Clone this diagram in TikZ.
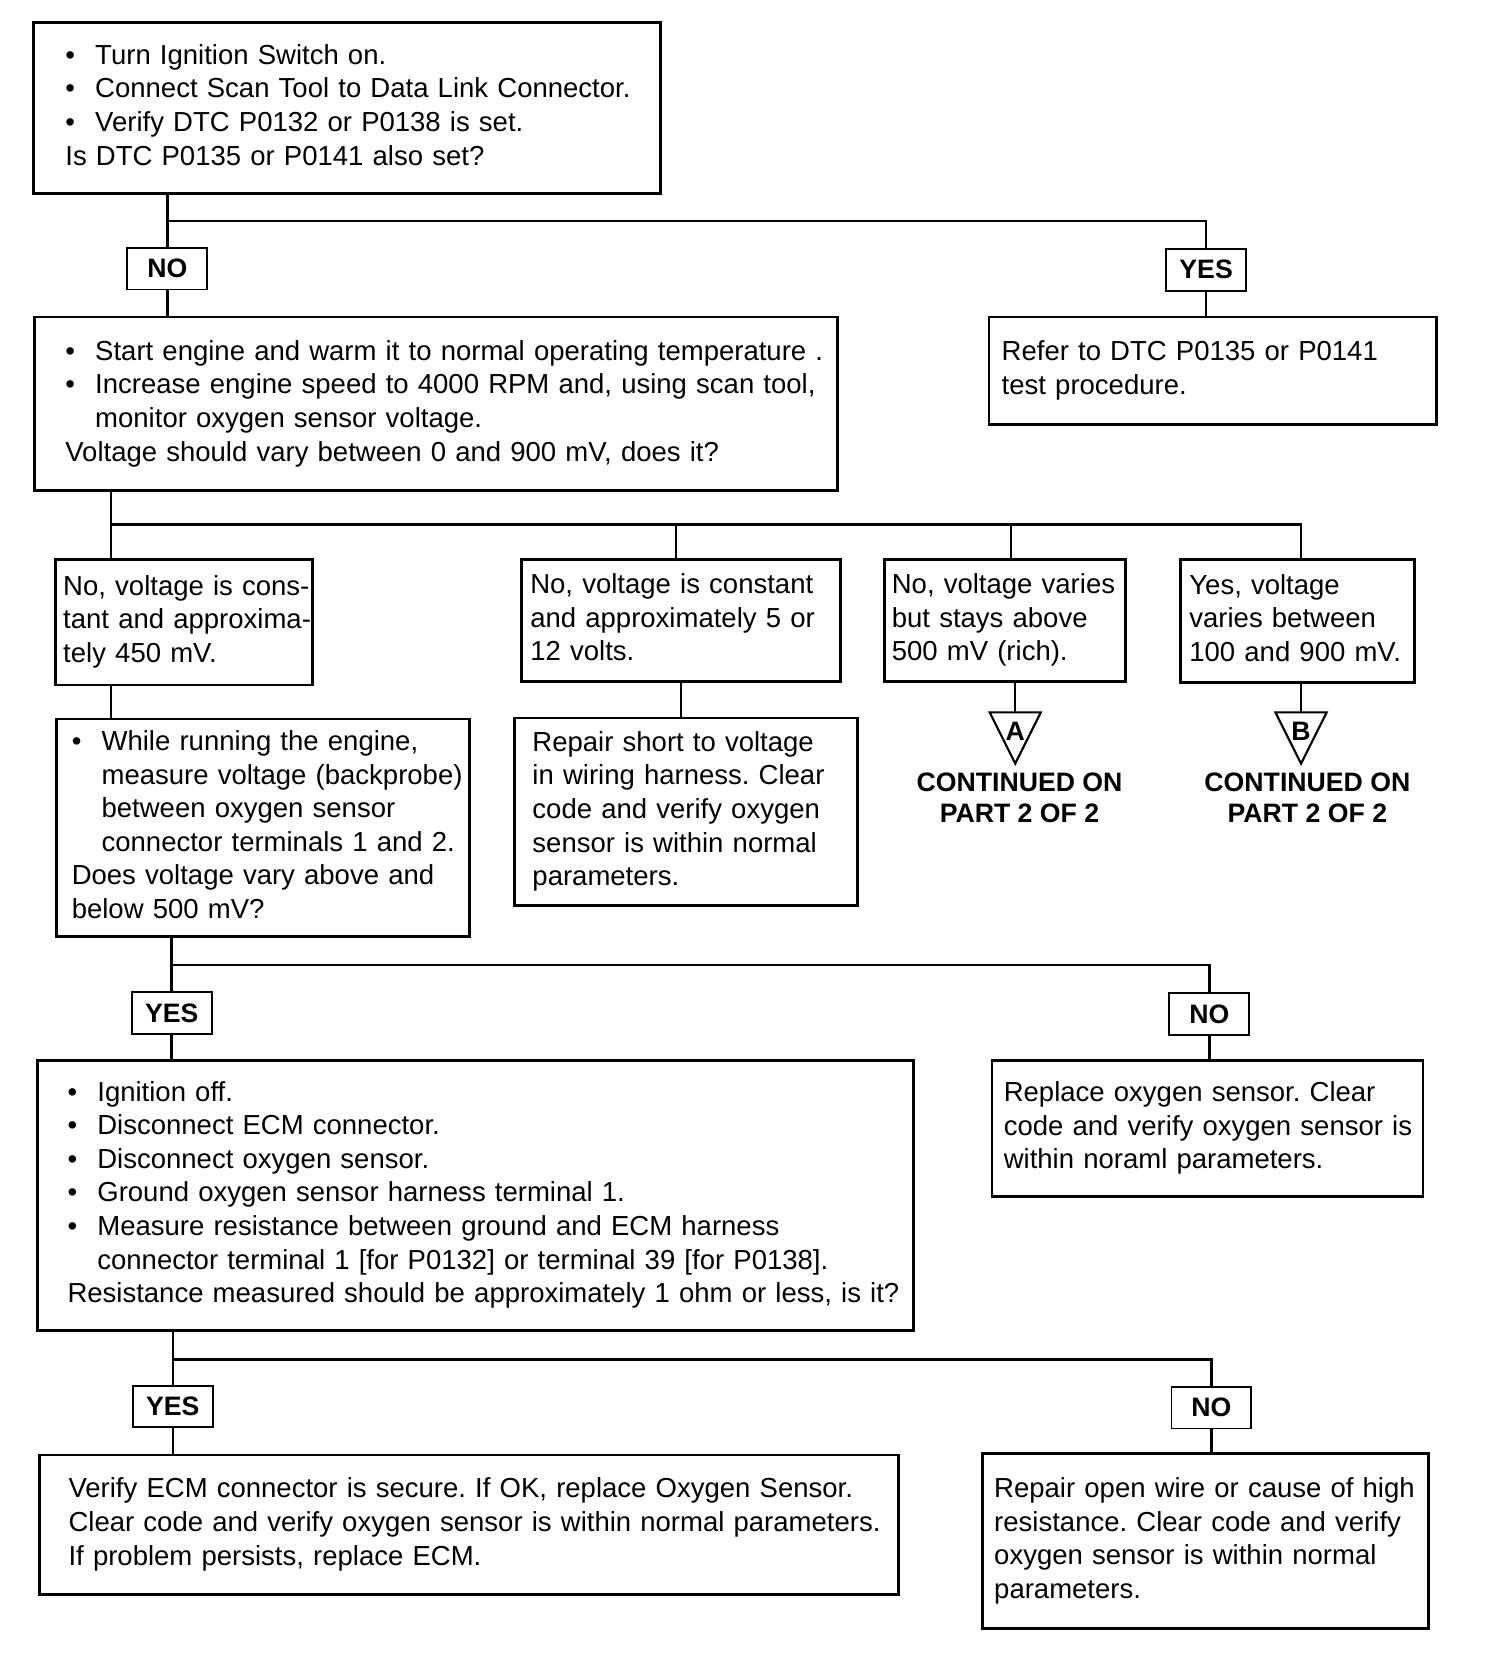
\documentclass[tikz,border=0pt]{standalone}
\usepackage{fontspec}
\setmainfont{Liberation Sans}
\frenchspacing
\tikzstyle{box}=[draw, rectangle, line width=2.6pt, anchor=north west, inner ysep=0pt, align=left, font=\fontsize{25.8}{31.5}\selectfont]
\tikzstyle{ans}=[draw, rectangle, line width=1.8pt, minimum width=75pt, minimum height=39pt, inner sep=0pt, font=\fontsize{25}{29}\selectfont\bfseries]
\tikzstyle{cont}=[align=center, inner sep=0pt, font=\fontsize{25}{29}\selectfont\bfseries]
\tikzstyle{wire}=[line width=2.3pt]
\def\bul{\makebox[28pt][l]{\textbullet}}
\def\ind{\hspace*{28pt}}
\def\lns#1{\raisebox{-2pt}{\begin{tabular}{@{}l@{}}#1\end{tabular}}}
\begin{document}
\begin{tikzpicture}[x=1pt,y=-1pt]
  \useasboundingbox (0,0) rectangle (1410,1566);
  % first checks
  \node [box, minimum width=588pt, minimum height=160pt, inner xsep=30pt, text width=528pt] (check) at (30,20)
    {\lns{\bul Turn Ignition Switch on.\\ \bul Connect Scan Tool to Data Link Connector.\\ \bul Verify DTC P0132 or P0138 is set.\\ Is DTC P0135 or P0141 also set?}};
  \node [ans] (no1) at (157,252) {NO};
  \node [ans] (yes1) at (1131,253) {YES};
  \node [box, minimum width=753pt, minimum height=163pt, inner xsep=29pt, text width=695pt] (run) at (31,296)
    {\lns{\bul Start engine and warm it to normal operating temperature .\\ \bul Increase engine speed to 4000 RPM and, using scan tool,\\ \ind monitor oxygen sensor voltage.\\ Voltage should vary between 0 and 900 mV, does it?}};
  \node [box, minimum width=420pt, minimum height=101pt, inner xsep=12pt, text width=396pt] (refer) at (926,296)
    {\lns{Refer to DTC P0135 or P0141\\ test procedure.}};

  % four voltage readings
  \node [box, minimum width=241pt, minimum height=118pt, inner xsep=7pt, text width=227pt] (mid) at (51,523)
    {\lns{No, voltage is cons-\\ tant and approxima-\\ tely 450 mV.}};
  \node [box, minimum width=299pt, minimum height=115pt, inner xsep=8pt, text width=283pt] (high) at (488,523)
    {\lns{No, voltage is constant\\ and approximately 5 or\\ 12 volts.}};
  \node [box, minimum width=226pt, minimum height=115pt, inner xsep=7pt, text width=212pt] (rich) at (828,523)
    {\lns{No, voltage varies\\ but stays above\\ 500 mV (rich).}};
  \node [box, minimum width=219pt, minimum height=116pt, inner xsep=8pt, text width=203pt] (good) at (1106,523)
    {\lns{Yes, voltage\\ varies between\\ 100 and 900 mV.}};

  \node [box, minimum width=387pt, minimum height=204pt, inner xsep=14pt, text width=359pt] (probe) at (52,673)
    {\lns{\bul While running the engine,\\ \ind measure voltage (backprobe)\\ \ind between oxygen sensor\\ \ind connector terminals 1 and 2.\\ Does voltage vary above and\\ below 500 mV?}};
  \node [box, minimum width=322pt, minimum height=176pt, inner xsep=17pt, text width=288pt] (short) at (481,672)
    {\lns{Repair short to voltage\\ in wiring harness. Clear\\ code and verify oxygen\\ sensor is within normal\\ parameters.}};

  \coordinate (tA) at (952,668);
  \coordinate (tB) at (1220,668);
  \draw [line width=2pt] (tA) ++(-24,0) -- ++(48,0) -- ++(-24,48) -- cycle;
  \draw [line width=2pt] (tB) ++(-24,0) -- ++(48,0) -- ++(-24,48) -- cycle;
  \node [font=\fontsize{25}{25}\selectfont\bfseries, inner sep=0pt] (letA) at (952,686) {A};
  \node [font=\fontsize{25}{25}\selectfont\bfseries, inner sep=0pt] (letB) at (1220,686) {B};
  \node [cont] (contA) at (956,748) {CONTINUED ON\\ PART 2 OF 2};
  \node [cont] (contB) at (1226,748) {CONTINUED ON\\ PART 2 OF 2};

  % resistance check
  \node [ans] (yes2) at (161,950) {YES};
  \node [ans] (no2) at (1134,951) {NO};
  \node [box, minimum width=821pt, minimum height=253pt, inner xsep=28pt, text width=765pt] (ohm) at (34,993)
    {\lns{\bul Ignition off.\\ \bul Disconnect ECM connector.\\ \bul Disconnect oxygen sensor.\\ \bul Ground oxygen sensor harness terminal 1.\\ \bul Measure resistance between ground and ECM harness\\ \ind connector terminal 1 [for P0132] or terminal 39 [for P0138].\\ Resistance measured should be approximately 1 ohm or less, is it?}};
  \node [box, minimum width=404pt, minimum height=128pt, inner xsep=11pt, text width=382pt] (swap) at (929,993)
    {\lns{Replace oxygen sensor. Clear\\ code and verify oxygen sensor is\\ within noraml parameters.}};

  \node [ans] (yes3) at (162,1319) {YES};
  \node [ans] (no3) at (1136,1320) {NO};
  \node [box, minimum width=805pt, minimum height=131pt, inner xsep=27pt, text width=751pt] (ecm) at (36,1363)
    {\lns{Verify ECM connector is secure. If OK, replace Oxygen Sensor.\\ Clear code and verify oxygen sensor is within normal parameters.\\ If problem persists, replace ECM.}};
  \node [box, minimum width=418pt, minimum height=164pt, inner xsep=11pt, text width=396pt] (repair) at (920,1362)
    {\lns{Repair open wire or cause of high\\ resistance. Clear code and verify\\ oxygen sensor is within normal\\ parameters.}};

  % connectors
  \coordinate (s1) at (157,207);
  \draw [wire] (no1 |- check.south) -- (no1.north);
  \draw [wire] (s1) -| (yes1.north);
  \draw [wire] (no1.south) -- (no1.south |- run.north);
  \draw [wire] (yes1.south) -- (yes1.south |- refer.north);

  \coordinate (b1) at (104,492);
  \coordinate (b2) at (634,492);
  \coordinate (b3) at (948,492);
  \coordinate (b4) at (1220,492);
  \draw [wire] (b1 |- run.south) -- (b1) -- (b4) -- (b4 |- good.north);
  \draw [wire] (b1) -- (b1 |- mid.north);
  \draw [wire] (b2) -- (b2 |- high.north);
  \draw [wire] (b3) -- (b3 |- rich.north);
  \draw [wire] (b1 |- mid.south) -- (b1 |- probe.north);
  \draw [wire] (high.south) -- (high.south |- short.north);
  \draw [wire] (tA |- rich.south) -- (tA);
  \draw [wire] (tB |- good.south) -- (tB);

  \coordinate (s3) at (161,905);
  \draw [wire] (yes2 |- probe.south) -- (yes2.north);
  \draw [wire] (s3) -| (no2.north);
  \draw [wire] (yes2.south) -- (yes2.south |- ohm.north);
  \draw [wire] (no2.south) -- (no2.south |- swap.north);

  \coordinate (s4) at (162,1275);
  \draw [wire] (yes3 |- ohm.south) -- (yes3.north);
  \draw [wire] (s4) -| (no3.north);
  \draw [wire] (yes3.south) -- (yes3.south |- ecm.north);
  \draw [wire] (no3.south) -- (no3.south |- repair.north);
\end{tikzpicture}
\end{document}
